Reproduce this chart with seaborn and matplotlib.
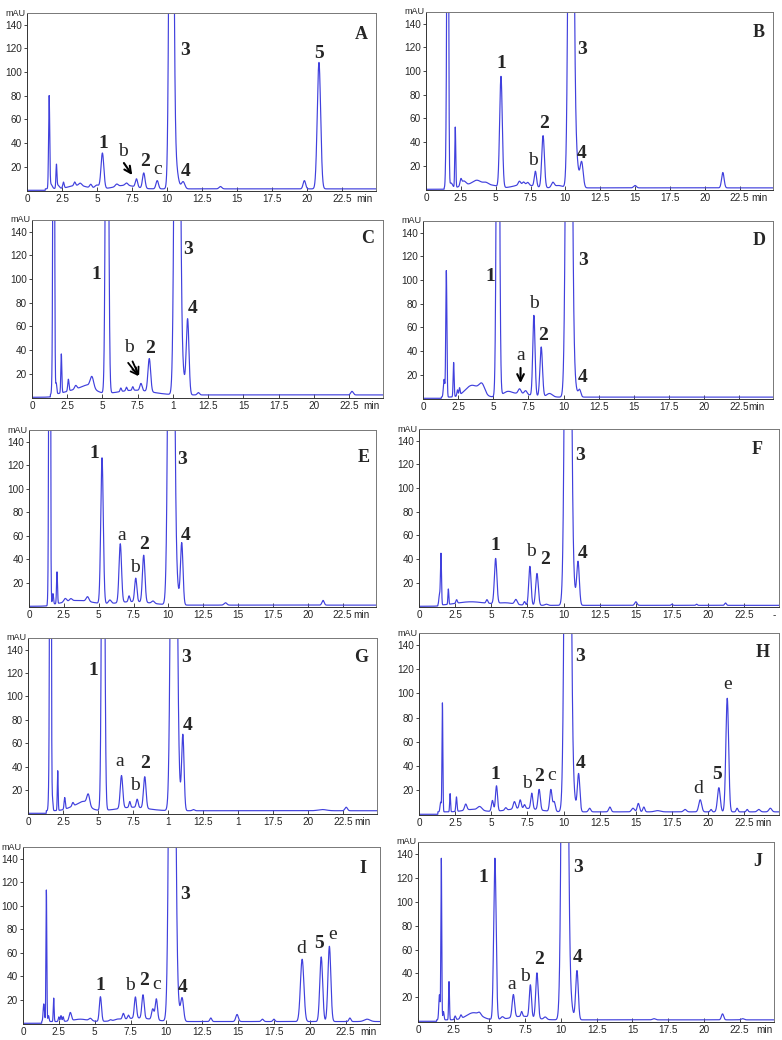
import numpy as np
import matplotlib
matplotlib.use("Agg")
import matplotlib.pyplot as plt
from matplotlib.ticker import MultipleLocator, FixedLocator, FixedFormatter
import seaborn as sns

# each chromatogram as a peak table: retention time (min), height (mAU), peak sigma (min)
# base_* = detector level after the solvent front

rt_A = [1.58, 1.7, 2.1, 2.2, 2.6, 3.4, 3.6, 3.8, 4.55, 5.0, 5.38, 6.4, 7.1, 7.0, 7.81, 8.33, 9.29, 10.3, 10.5, 11.14, 13.8, 19.79, 20.83]
h_A = [77, 4, 19, 3, 5, 3, 3, 2, 3, 3, 30, 2, 2, 3, 7, 13, 7, 650, 30, 6, 2, 7, 107]
w_A = [0.04, 0.1, 0.035, 0.1, 0.05, 0.06, 0.6, 0.1, 0.08, 0.15, 0.1, 0.1, 0.1, 0.7, 0.08, 0.09, 0.09, 0.12, 0.2, 0.12, 0.1, 0.09, 0.12]
base_A = 1.2

rt_B = [1.45, 1.56, 1.8, 2.1, 2.5, 2.7, 3.3, 3.7, 4.3, 4.8, 5.38, 6.7, 7.0, 7.3, 7.0, 7.85, 8.4, 9.1, 9.5, 10.4, 10.65, 11.17, 15.0, 21.3]
h_B = [35, 500, 4, 51, 5, 4, 3, 4, 3, 2, 94, 3, 2, 2, 3, 13, 44, 4, 2, 700, 40, 21, 2, 13]
w_B = [0.045, 0.05, 0.1, 0.035, 0.06, 0.15, 0.6, 0.3, 0.2, 0.3, 0.095, 0.08, 0.08, 0.08, 0.6, 0.08, 0.095, 0.1, 0.3, 0.14, 0.2, 0.11, 0.1, 0.09]
base_B = 1.2

rt_C = [1.45, 1.54, 1.72, 2.08, 2.58, 3.1, 3.4, 4.25, 4.0, 5.32, 6.3, 6.7, 7.15, 7.3, 7.73, 8.32, 10.3, 10.55, 11.04, 11.8, 22.7]
h_C = [14, 600, 9, 33, 10, 3, 5, 9, 4, 500, 3, 3, 3, 4, 6, 28, 800, 30, 63, 2, 3]
w_C = [0.045, 0.045, 0.04, 0.035, 0.045, 0.08, 0.9, 0.12, 0.4, 0.09, 0.05, 0.05, 0.05, 1.2, 0.08, 0.095, 0.14, 0.2, 0.095, 0.08, 0.09]
base_C = 2.0

rt_D = [1.5, 1.66, 2.18, 2.45, 2.6, 3.5, 4.2, 5.33, 6.0, 6.87, 7.3, 6.8, 7.89, 8.41, 9.0, 10.38, 10.6, 11.14]
h_D = [15, 107, 29, 5, 6, 10, 8, 500, 3, 4, 3, 3, 68, 42, 3, 800, 25, 6]
w_D = [0.05, 0.04, 0.035, 0.04, 0.04, 0.5, 0.2, 0.09, 0.3, 0.1, 0.1, 0.8, 0.08, 0.09, 0.2, 0.15, 0.2, 0.09]
base_D = 1.0

rt_E = [1.42, 1.48, 1.72, 2.01, 2.6, 3.0, 3.5, 4.2, 5.24, 5.8, 6.55, 7.18, 7.5, 7.66, 8.23, 8.9, 10.2, 10.45, 10.96, 14.1, 21.1]
h_E = [24, 600, 9, 27, 3, 2, 4, 4, 124, 3, 50, 5, 3, 20, 40, 2, 800, 30, 52, 2, 4]
w_E = [0.045, 0.045, 0.04, 0.035, 0.1, 0.1, 1.0, 0.1, 0.09, 0.1, 0.09, 0.06, 1.2, 0.08, 0.09, 0.1, 0.15, 0.2, 0.09, 0.1, 0.08]
base_E = 1.0

rt_F = [1.42, 1.52, 2.03, 2.6, 3.6, 4.7, 5.3, 6.0, 6.7, 7.3, 7.67, 8.16, 8.8, 10.3, 10.5, 11.0, 15.0, 17.5, 19.2, 21.2]
h_F = [9, 43, 13, 3, 3, 3, 38, 2, 4, 3, 33, 27, 1, 800, 30, 36, 3, 1, 1, 2]
w_F = [0.045, 0.035, 0.03, 0.05, 1.0, 0.06, 0.085, 0.6, 0.09, 0.06, 0.08, 0.09, 0.1, 0.15, 0.2, 0.09, 0.08, 0.05, 0.05, 0.06]
base_F = 0.8

rt_G = [1.5, 1.6, 1.75, 2.12, 2.62, 3.2, 3.6, 4.05, 4.3, 5.36, 6.67, 7.26, 7.5, 7.79, 8.33, 10.4, 10.6, 11.05, 11.8, 21.0, 22.7]
h_G = [18, 600, 9, 34, 10, 3, 5, 4, 9, 500, 28, 5, 3, 7, 27, 800, 30, 63, 1, 1, 3]
w_G = [0.045, 0.045, 0.035, 0.03, 0.045, 0.06, 0.6, 0.3, 0.1, 0.09, 0.09, 0.055, 1.0, 0.07, 0.09, 0.15, 0.2, 0.085, 0.08, 0.3, 0.09]
base_G = 2.2

rt_H = [1.5, 1.62, 2.15, 2.59, 3.23, 3.7, 4.2, 5.08, 5.36, 6.0, 6.6, 7.0, 7.3, 7.2, 7.8, 8.31, 9.12, 9.35, 10.28, 10.5, 11.04, 11.8, 13.2, 14.8, 15.17, 15.55, 16.5, 18.4, 19.45, 20.2, 20.74, 21.32, 22.0, 22.7, 23.5, 24.3]
h_H = [8, 90, 15, 12, 5, 2, 3, 9, 21, 2, 6, 7, 3, 3, 13, 17, 18, 8, 800, 30, 31, 3, 4, 3, 7, 4, 1, 2, 10, 2, 20, 94, 3, 2, 2, 3]
w_H = [0.045, 0.03, 0.03, 0.04, 0.08, 0.6, 0.15, 0.07, 0.07, 0.07, 0.08, 0.07, 0.06, 1.0, 0.07, 0.08, 0.08, 0.08, 0.15, 0.2, 0.085, 0.08, 0.08, 0.1, 0.08, 0.07, 0.2, 0.1, 0.1, 0.06, 0.095, 0.095, 0.06, 0.06, 0.1, 0.1]
base_H = 2.0

rt_I = [1.45, 1.63, 1.78, 2.14, 2.5, 2.65, 2.8, 3.3, 4.0, 4.7, 5.4, 6.1, 6.6, 7.0, 7.35, 8.0, 7.84, 8.37, 9.05, 9.3, 10.4, 10.6, 11.1, 13.1, 14.93, 16.7, 17.5, 19.47, 20.8, 21.37, 22.8, 24.0]
h_I = [15, 112, 5, 20, 4, 5, 4, 7, 2, 2, 21, 1, 1, 5, 3, 3, 18, 20, 9, 18, 800, 30, 19, 3, 6, 2, 2, 53, 55, 64, 3, 2]
w_I = [0.045, 0.03, 0.04, 0.03, 0.04, 0.04, 0.04, 0.08, 0.5, 0.1, 0.075, 0.08, 0.2, 0.07, 0.06, 1.0, 0.075, 0.08, 0.08, 0.08, 0.15, 0.2, 0.1, 0.07, 0.09, 0.08, 0.07, 0.12, 0.1, 0.1, 0.07, 0.2]
base_I = 1.5

rt_J = [1.5, 1.63, 1.78, 2.17, 2.6, 3.0, 3.9, 4.3, 5.38, 5.9, 6.67, 7.25, 7.3, 7.86, 8.32, 8.9, 10.26, 10.5, 11.12, 16.5, 21.3, 22.7]
h_J = [21, 135, 7, 32, 3, 3, 6, 2, 135, 2, 19, 4, 3, 27, 38, 2, 800, 30, 41, 1, 5, 1]
w_J = [0.045, 0.03, 0.04, 0.03, 0.05, 0.06, 0.5, 0.1, 0.085, 0.1, 0.085, 0.055, 0.8, 0.075, 0.085, 0.1, 0.15, 0.2, 0.09, 0.1, 0.08, 0.1]
base_J = 1.2

# peak labels: (text, x in min, y in mAU)
lab_A = [("1", 5.43, 40), ("b", 6.86, 33), ("2", 8.4, 24.6), ("c", 9.29, 17.6), ("3", 11.26, 118), ("4", 11.3, 16), ("5", 20.83, 116)]
lab_B = [("1", 5.38, 106.5), ("b", 7.66, 24), ("2", 8.49, 55.8), ("3", 11.2, 118), ("4", 11.2, 30.6)]
lab_C = [("1", 4.54, 103.7), ("b", 6.86, 42.3), ("2", 8.39, 40.9), ("3", 11.1, 125), ("4", 11.4, 75)]
lab_D = [("1", 4.81, 102.9), ("a", 6.94, 35.9), ("b", 7.89, 80.6), ("2", 8.53, 53), ("3", 11.37, 116.8), ("4", 11.37, 17.8)]
lab_E = [("1", 4.71, 130), ("a", 6.63, 60), ("b", 7.63, 32.6), ("2", 8.25, 53), ("3", 10.98, 125), ("4", 11.22, 60)]
lab_F = [("1", 5.25, 51.8), ("b", 7.76, 46), ("2", 8.71, 39.9), ("3", 11.13, 127.8), ("4", 11.29, 44.7)]
lab_G = [("1", 4.69, 121.8), ("a", 6.55, 44.4), ("b", 7.6, 23.7), ("2", 8.38, 42.4), ("3", 11.29, 133), ("4", 11.4, 74.8)]
lab_H = [("1", 5.27, 32.5), ("b", 7.46, 25.5), ("2", 8.27, 31), ("c", 9.19, 31.7), ("3", 11.13, 130.9),
         ("4", 11.15, 41.7), ("d", 19.28, 21.4), ("5", 20.6, 32.5), ("e", 21.32, 107)]
lab_I = [("1", 5.4, 32.5), ("b", 7.49, 32.5), ("2", 8.47, 36), ("c", 9.35, 33), ("3", 11.28, 110),
         ("4", 11.16, 30.6), ("d", 19.42, 63.5), ("5", 20.63, 68.2), ("e", 21.6, 75.2)]
lab_J = [("1", 4.55, 120.5), ("a", 6.57, 30.6), ("b", 7.51, 37.3), ("2", 8.46, 51.3), ("3", 11.19, 128.8), ("4", 11.19, 53.5)]

# panel letter positions (min, mAU)
letter_pos = {"A": (23.88, 132), "B": (23.88, 133), "C": (23.83, 134), "D": (23.93, 133.6), "E": (24.04, 127),
              "F": (23.39, 133), "G": (23.74, 133), "H": (23.74, 134), "I": (23.7, 131.4), "J": (23.78, 133.6)}

x_ticks = [0, 2.5, 5, 7.5, 10, 12.5, 15, 17.5, 20, 22.5]
x_labels = ["0", "2.5", "5", "7.5", "10", "12.5", "15", "17.5", "20", "22.5"]
x_labels_C = ["0", "2.5", "5", "7.5", "1", "12.5", "15", "17.5", "20", "22.5"]
x_labels_G = ["0", "2.5", "5", "7.5", "1", "12.5", "1", "17.5", "20", "22.5"]
unit_x = {"A": 24.05, "B": 23.95, "C": 24.1, "D": 23.75, "E": 23.85, "F": 24.6, "G": 23.85, "H": 23.85, "I": 24.1, "J": 24.2}

# axes boxes in pixels: left, top, right, bottom
boxes = {"A": (27, 13, 376, 191), "B": (426, 12, 773, 190), "C": (32, 220, 383, 398), "D": (423, 221, 773, 399),
         "E": (29, 430, 376, 607), "F": (419, 429, 779, 607), "G": (28, 638, 377, 814), "H": (419, 633, 779, 815),
         "I": (23, 847, 380, 1024), "J": (418, 842, 774, 1022)}

panels = [("A", rt_A, h_A, w_A, base_A, lab_A, x_labels),
          ("B", rt_B, h_B, w_B, base_B, lab_B, x_labels),
          ("C", rt_C, h_C, w_C, base_C, lab_C, x_labels_C),
          ("D", rt_D, h_D, w_D, base_D, lab_D, x_labels),
          ("E", rt_E, h_E, w_E, base_E, lab_E, x_labels),
          ("F", rt_F, h_F, w_F, base_F, lab_F, x_labels),
          ("G", rt_G, h_G, w_G, base_G, lab_G, x_labels_G),
          ("H", rt_H, h_H, w_H, base_H, lab_H, x_labels),
          ("I", rt_I, h_I, w_I, base_I, lab_I, x_labels),
          ("J", rt_J, h_J, w_J, base_J, lab_J, x_labels)]

LINE = "#4040dd"
SERIF = "Liberation Serif"

sns.set_style("white")
plt.rcParams["font.family"] = ["Liberation Sans", "DejaVu Sans"]


def build_trace(t, rt, h, w, base, front=1.3):
    y = np.where(t >= front, base, 0.0)
    for r, a, s in zip(rt, h, w):
        y = y + a * np.exp(-0.5 * ((t - r) / s) ** 2)
    return y


fig = plt.figure(figsize=(7.82, 10.40), dpi=100)
t = np.linspace(0, 24.9, 6000)

for name, rt, h, w, base, labels, xlab in panels:
    l, tp, r, b = boxes[name]
    ax = fig.add_axes([l / 782, 1 - b / 1040, (r - l) / 782, (b - tp) / 1040])
    y = build_trace(t, rt, h, w, base)
    sns.lineplot(x=t, y=y, ax=ax, color=LINE, linewidth=0.85, estimator=None, sort=False)

    ax.set_xlim(0, 24.9)
    ax.set_ylim(-0.6, 150)
    ax.set_xlabel("")
    ax.set_ylabel("")

    ax.xaxis.set_major_locator(FixedLocator(x_ticks))
    ax.xaxis.set_major_formatter(FixedFormatter(xlab))
    ax.xaxis.set_minor_locator(MultipleLocator(0.5))
    ax.yaxis.set_major_locator(FixedLocator([20, 40, 60, 80, 100, 120, 140]))
    ax.yaxis.set_minor_locator(MultipleLocator(5))
    ax.tick_params(axis="x", which="major", direction="in", length=3, width=0.6, labelsize=7.2, pad=2)
    ax.tick_params(axis="x", which="minor", direction="in", length=1.8, width=0.5)
    ax.tick_params(axis="y", which="major", direction="out", length=2.5, width=0.6, labelsize=7.2, pad=1)
    ax.tick_params(axis="y", which="minor", direction="out", length=1.5, width=0.5)
    ax.tick_params(bottom=True, left=True)
    for side, sp in ax.spines.items():
        sp.set_linewidth(0.7)
        sp.set_color("#333333" if side in ("left", "bottom") else "#777777")

    ax.text(-0.004, 1.0, "mAU", transform=ax.transAxes, ha="right", va="center", fontsize=6.5)
    unit = "-" if name == "F" else "min"
    ax.annotate(unit, xy=(unit_x[name], 0), xycoords=("data", "axes fraction"),
                xytext=(0, -2), textcoords="offset points", ha="center", va="top", fontsize=7.2)

    for txt, lx, ly in labels:
        ax.text(lx, ly, txt, ha="center", va="center", fontsize=14, family=SERIF,
                fontweight="bold" if txt.isdigit() else "normal")
    px, py = letter_pos[name]
    ax.text(px, py, name, ha="center", va="center", fontsize=13, family=SERIF, fontweight="bold")

    if name == "A":
        ax.annotate("", xy=(7.62, 11), xytext=(6.8, 25),
                    arrowprops=dict(arrowstyle="->", lw=1.5, color="black", mutation_scale=12))
    if name == "C":
        for sx, sy in [(6.7, 31), (7.05, 32.5)]:
            ax.annotate("", xy=(7.68, 16), xytext=(sx, sy),
                        arrowprops=dict(arrowstyle="->", lw=1.3, color="black", mutation_scale=12))
    if name == "D":
        ax.annotate("", xy=(6.94, 10.5), xytext=(6.94, 28),
                    arrowprops=dict(arrowstyle="->", lw=1.5, color="black", mutation_scale=12))

fig.savefig("out.png", dpi=100)
